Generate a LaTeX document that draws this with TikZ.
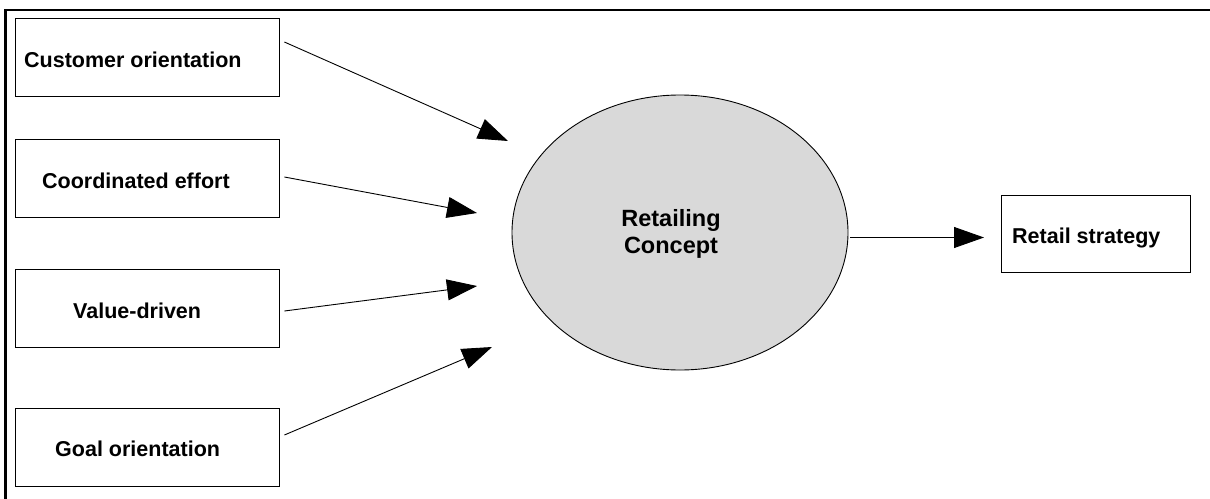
\documentclass[tikz,border=0pt]{standalone}
\usepackage{fontspec}
\setmainfont{Liberation Sans}
\usetikzlibrary{shapes.geometric,arrows.meta}
\tikzset{
  factor/.style={draw=black, line width=0.8pt, rectangle, minimum width=264pt, minimum height=78pt, inner sep=0pt},
  label/.style={font=\bfseries\fontsize{21.5}{24}\selectfont, inner sep=0pt, anchor=base west},
  concept/.style={draw=black, line width=0.9pt, ellipse, fill=black!15, minimum width=336pt, minimum height=275pt, inner sep=0pt},
  arr/.style={line width=0.9pt, -{Triangle[length=30pt,width=21pt]}},
}
\begin{document}
\begin{tikzpicture}[x=1pt,y=-1pt]
\useasboundingbox (0,0) rectangle (1210,498);
% outer frame (top and left edges)
\draw[line width=2.2pt] (1212,10) -- (5.5,10) -- (5.5,500);

% driver boxes
\node[factor] (cust) at (147,57) {};
\node[factor] (coord) at (147,178.5) {};
\node[factor] (value) at (147,308.5) {};
\node[factor] (goal) at (147,447) {};
\node[label] (custt) at (24,67) {Customer orientation};
\node[label] (coordt) at (42,188.5) {Coordinated effort};
\node[label] (valuet) at (73,318) {Value-driven};
\node[label] (goalt) at (55,456) {Goal orientation};

% central concept
\node[concept] (rc) at (680,232.5) {};
\node[font=\bfseries\fontsize{23.5}{26.5}\selectfont, align=center, inner sep=0pt] (rct) at (671,234) {Retailing\\Concept};

% outcome box
\node[draw=black, line width=0.8pt, minimum width=189pt, minimum height=77pt, inner sep=0pt] (rs) at (1095.5,233.5) {};
\node[label] (rst) at (1012,243) {Retail strategy};

% arrow tips near the ellipse
\coordinate (t1) at (508,141);
\coordinate (t2) at (477,213);
\coordinate (t3) at (477,286);
\coordinate (t4) at (492,347);
\coordinate (t5) at (984,237.5);

\draw[arr] ([xshift=5pt,yshift=15pt]cust.east) -- (t1);
\draw[arr] ([xshift=5pt,yshift=1.5pt]coord.east) -- (t2);
\draw[arr] ([xshift=5pt,yshift=-2.5pt]value.east) -- (t3);
\draw[arr] ([xshift=5pt,yshift=12pt]goal.east) -- (t4);
\draw[arr] ([xshift=2pt,yshift=-5pt]rc.east) -- (t5);
\end{tikzpicture}
\end{document}
